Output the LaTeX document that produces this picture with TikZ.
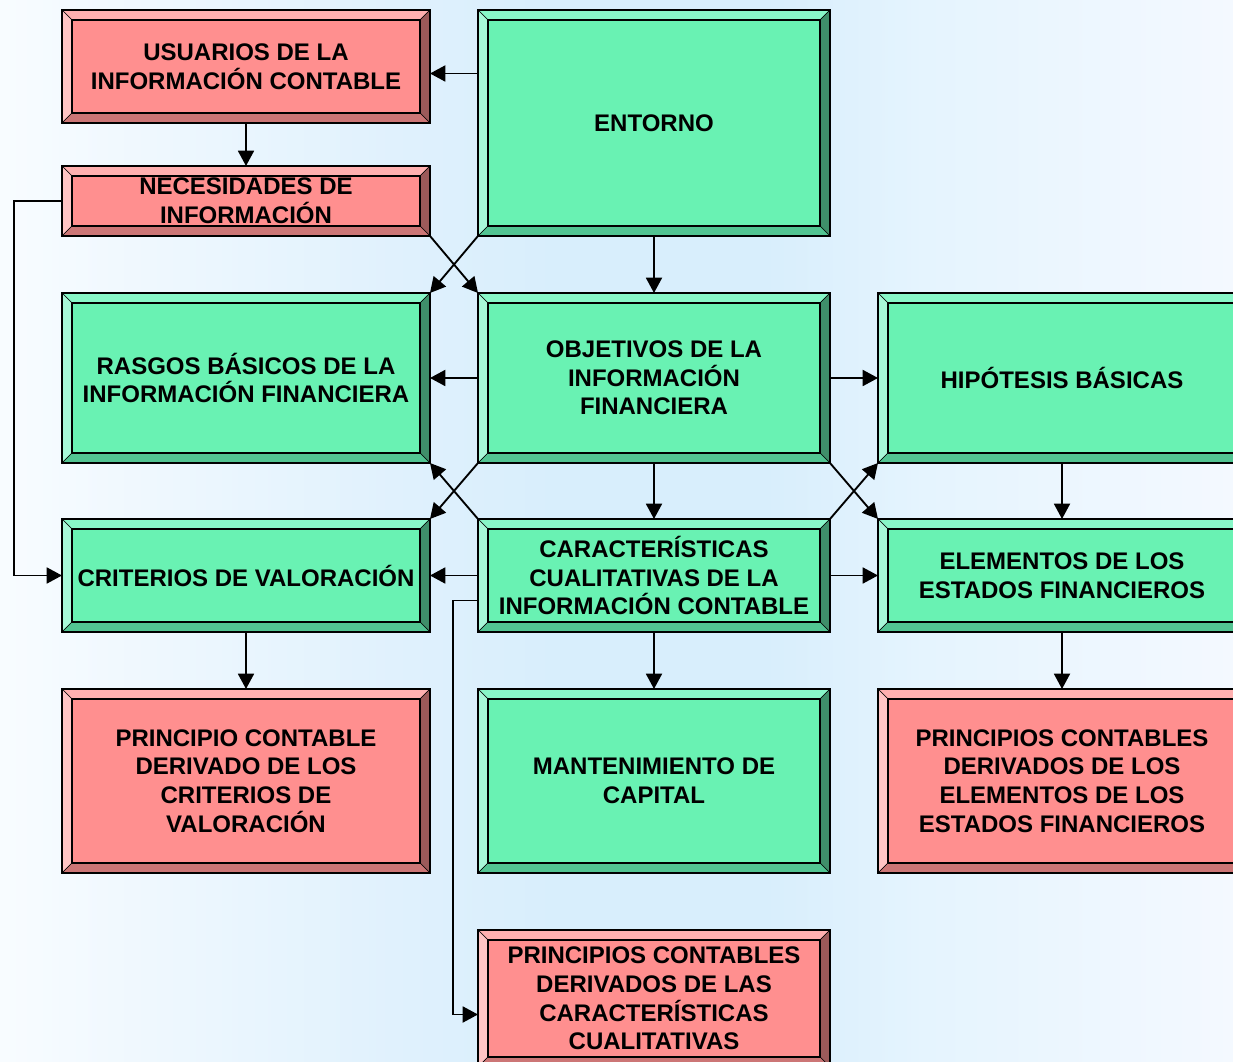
\documentclass[tikz,border=0pt]{standalone}
\usepackage{fontspec}
\setmainfont{Liberation Sans}
\usetikzlibrary{arrows.meta,calc}
\definecolor{redfill}{HTML}{FF8F8F}
\definecolor{redtop}{HTML}{FFB0B0}
\definecolor{redleft}{HTML}{FFC4C4}
\definecolor{redright}{HTML}{9C5A5A}
\definecolor{redbot}{HTML}{CC7676}
\definecolor{greenfill}{HTML}{69F2B3}
\definecolor{greentop}{HTML}{88F7C8}
\definecolor{greenleft}{HTML}{A8F8D8}
\definecolor{greenright}{HTML}{3F8F6A}
\definecolor{greenbot}{HTML}{52C492}
\pgfdeclarehorizontalshading{bgshade}{100bp}{%
  rgb(0bp)=(0.973,0.988,1);
  rgb(25bp)=(0.973,0.988,1);
  rgb(41bp)=(0.878,0.945,0.992);
  rgb(47.5bp)=(0.847,0.933,0.988);
  rgb(56bp)=(0.847,0.933,0.988);
  rgb(62.5bp)=(0.898,0.957,0.996);
  rgb(75bp)=(0.957,0.976,1);
  rgb(100bp)=(0.957,0.976,1)}
\newcommand\boxfont{\bfseries\fontsize{18}{21.5}\selectfont}
% #1 name, #2 x1, #3 y1, #4 x2, #5 y2, #6 scheme, #7 text
\newcommand\bevbox[7]{%
  \fill[#6fill] (#2,#3) rectangle (#4,#5);
  \filldraw[bevline,fill=#6top] (#2,#3) -- (#4,#3) -- (#4-10,#3+10) -- (#2+10,#3+10) -- cycle;
  \filldraw[bevline,fill=#6left] (#2,#3) -- (#2+10,#3+10) -- (#2+10,#5-10) -- (#2,#5) -- cycle;
  \filldraw[bevline,fill=#6right] (#4,#3) -- (#4,#5) -- (#4-10,#5-10) -- (#4-10,#3+10) -- cycle;
  \filldraw[bevline,fill=#6bot] (#2,#5) -- (#4,#5) -- (#4-10,#5-10) -- (#2+10,#5-10) -- cycle;
  \draw[line width=1pt] (#2+10,#3+10) rectangle (#4-10,#5-10);
  \draw[line width=1.5pt] (#2,#3) rectangle (#4,#5);
  \node[boxnode, minimum width={(#4-#2)*0.75pt}, minimum height={(#5-#3)*0.75pt}]
    (#1) at ({(#2+#4)/2},{(#3+#5)/2}) {#7};
}
\begin{document}
\begin{tikzpicture}[x=0.75pt,y=-0.75pt,
  bevline/.style={draw=black,line width=0.5pt},
  boxnode/.style={inner sep=0pt,outer sep=0pt,align=center,font=\boxfont},
  arr/.style={line width=1.4pt,-{Triangle[length=11.5pt,width=12pt]}}]
\useasboundingbox (0,0) rectangle (1233,1062);
\clip (0,0) rectangle (1233,1062);
\shade[shading=bgshade] (0,0) rectangle (1233,1062);

\bevbox{usuarios}{62}{10}{430}{123}{red}{USUARIOS DE LA\\INFORMACIÓN CONTABLE}
\bevbox{entorno}{478}{10}{830}{236}{green}{ENTORNO}
\bevbox{necesidades}{62}{166}{430}{236}{red}{NECESIDADES DE\\INFORMACIÓN}
\bevbox{rasgos}{62}{293}{430}{463}{green}{RASGOS BÁSICOS DE LA\\INFORMACIÓN FINANCIERA}
\bevbox{objetivos}{478}{293}{830}{463}{green}{OBJETIVOS DE LA\\INFORMACIÓN\\FINANCIERA}
\bevbox{hipotesis}{878}{293}{1246}{463}{green}{HIPÓTESIS BÁSICAS}
\bevbox{criterios}{62}{519}{430}{632}{green}{CRITERIOS DE VALORACIÓN}
\bevbox{caract}{478}{519}{830}{632}{green}{CARACTERÍSTICAS\\CUALITATIVAS DE LA\\INFORMACIÓN CONTABLE}
\bevbox{elementos}{878}{519}{1246}{632}{green}{ELEMENTOS DE LOS\\ESTADOS FINANCIEROS}
\bevbox{principio}{62}{689}{430}{873}{red}{PRINCIPIO CONTABLE\\DERIVADO DE LOS\\CRITERIOS DE\\VALORACIÓN}
\bevbox{mantenimiento}{478}{689}{830}{873}{green}{MANTENIMIENTO DE\\CAPITAL}
\bevbox{principios}{878}{689}{1246}{873}{red}{PRINCIPIOS CONTABLES\\DERIVADOS DE LOS\\ELEMENTOS DE LOS\\ESTADOS FINANCIEROS}
\bevbox{principioscar}{478}{930}{830}{1067}{red}{PRINCIPIOS CONTABLES\\DERIVADOS DE LAS\\CARACTERÍSTICAS\\CUALITATIVAS}

\draw[arr] ($(usuarios.east -| entorno.west)+(0,7)$) -- ($(usuarios.east)+(0,7)$);
\draw[arr] (usuarios.south) -- (necesidades.north);
\draw[arr] (necesidades.west) -- ++(-48,0) |- (criterios.west);
\draw[arr] (necesidades.south east) -- (objetivos.north west);
\draw[arr] (entorno.south west) -- (rasgos.north east);
\draw[arr] (entorno.south) -- (objetivos.north);
\draw[arr] (objetivos.west) -- (rasgos.east);
\draw[arr] (objetivos.east) -- (hipotesis.west);
\draw[arr] (objetivos.south west) -- (criterios.north east);
\draw[arr] (caract.north west) -- (rasgos.south east);
\draw[arr] (objetivos.south) -- (caract.north);
\draw[arr] (objetivos.south east) -- (elementos.north west);
\draw[arr] (caract.north east) -- (hipotesis.south west);
\draw[arr] (hipotesis.south) -- (elementos.north);
\draw[arr] (caract.west) -- (criterios.east);
\draw[arr] (caract.east) -- (elementos.west);
\draw[arr] (criterios.south) -- (principio.north);
\draw[arr] (caract.south) -- (mantenimiento.north);
\draw[arr] (elementos.south) -- (principios.north);
\draw[arr] ($(caract.west)+(0,25)$) -- ++(-25,0) |- ($(principioscar.west)+(0,16)$);
\end{tikzpicture}
\end{document}
